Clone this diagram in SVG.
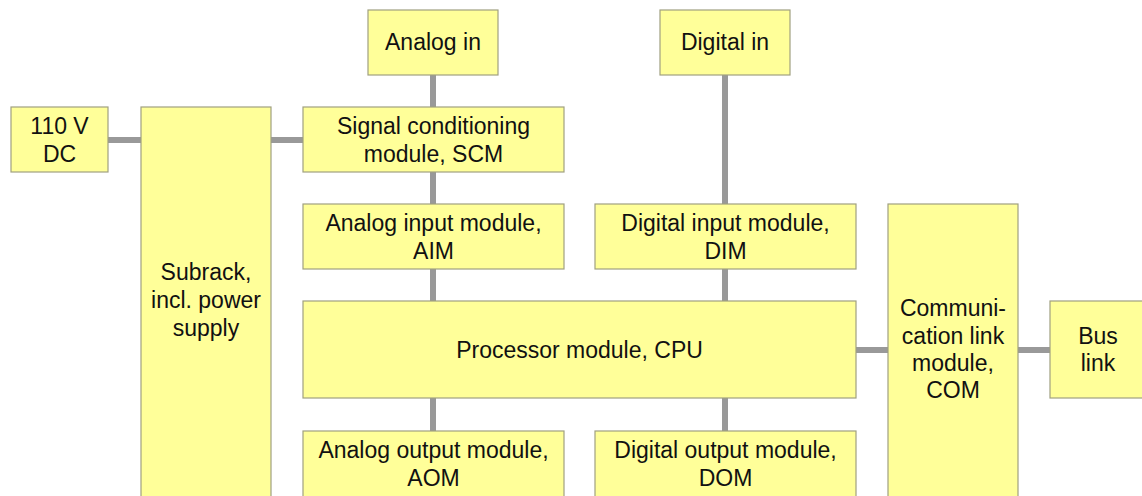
<svg xmlns="http://www.w3.org/2000/svg" width="1142" height="496" viewBox="0 0 1142 496">
  <style>
    .box { fill: #ffff99; stroke: #a0a080; stroke-width: 1.2; }
    .lbl { font-family: "Liberation Sans", Arial, sans-serif; font-size: 23px; fill: #111; text-anchor: middle; }
    .wire { stroke: #999999; stroke-width: 6; fill: none; }
  </style>
  <rect width="1142" height="496" fill="#ffffff"/>

  <!-- connectors -->
  <g id="connectors">
    <line class="wire" x1="108" y1="140" x2="141" y2="140"/>
    <line class="wire" x1="271" y1="140" x2="303" y2="140"/>
    <line class="wire" x1="433" y1="75" x2="433" y2="107"/>
    <line class="wire" x1="433" y1="172" x2="433" y2="204"/>
    <line class="wire" x1="433" y1="269" x2="433" y2="301"/>
    <line class="wire" x1="433" y1="398" x2="433" y2="431"/>
    <line class="wire" x1="725" y1="75" x2="725" y2="204"/>
    <line class="wire" x1="725" y1="269" x2="725" y2="301"/>
    <line class="wire" x1="725" y1="398" x2="725" y2="431"/>
    <line class="wire" x1="856" y1="350" x2="888" y2="350"/>
    <line class="wire" x1="1018" y1="350" x2="1050" y2="350"/>
  </g>

  <g id="dc-supply">
    <rect class="box" x="11" y="107" width="97" height="65"/>
    <text class="lbl" x="59.5" y="134">110 V</text>
    <text class="lbl" x="59.5" y="162">DC</text>
  </g>

  <g id="subrack">
    <rect class="box" x="141" y="107" width="130" height="400"/>
    <text class="lbl" x="206" y="280">Subrack,</text>
    <text class="lbl" x="206" y="308">incl. power</text>
    <text class="lbl" x="206" y="336">supply</text>
  </g>

  <g id="analog-in">
    <rect class="box" x="368" y="10" width="130" height="65"/>
    <text class="lbl" x="433" y="50">Analog in</text>
  </g>

  <g id="digital-in">
    <rect class="box" x="660" y="10" width="130" height="65"/>
    <text class="lbl" x="725" y="50">Digital in</text>
  </g>

  <g id="scm">
    <rect class="box" x="303" y="107" width="261" height="65"/>
    <text class="lbl" x="433.5" y="134">Signal conditioning</text>
    <text class="lbl" x="433.5" y="162">module, SCM</text>
  </g>

  <g id="aim">
    <rect class="box" x="303" y="204" width="261" height="65"/>
    <text class="lbl" x="433.5" y="231">Analog input module,</text>
    <text class="lbl" x="433.5" y="259">AIM</text>
  </g>

  <g id="dim">
    <rect class="box" x="595" y="204" width="261" height="65"/>
    <text class="lbl" x="725.5" y="231">Digital input module,</text>
    <text class="lbl" x="725.5" y="259">DIM</text>
  </g>

  <g id="cpu">
    <rect class="box" x="303" y="301" width="553" height="97"/>
    <text class="lbl" x="579.5" y="358">Processor module, CPU</text>
  </g>

  <g id="com">
    <rect class="box" x="888" y="204" width="130" height="303"/>
    <text class="lbl" x="953" y="316">Communi-</text>
    <text class="lbl" x="953" y="344">cation link</text>
    <text class="lbl" x="953" y="371">module,</text>
    <text class="lbl" x="953" y="398">COM</text>
  </g>

  <g id="bus-link">
    <rect class="box" x="1050" y="301" width="100" height="97"/>
    <text class="lbl" x="1098" y="344">Bus</text>
    <text class="lbl" x="1098" y="371">link</text>
  </g>

  <g id="aom">
    <rect class="box" x="303" y="431" width="261" height="80"/>
    <text class="lbl" x="433.5" y="458">Analog output module,</text>
    <text class="lbl" x="433.5" y="486">AOM</text>
  </g>

  <g id="dom">
    <rect class="box" x="595" y="431" width="261" height="80"/>
    <text class="lbl" x="725.5" y="458">Digital output module,</text>
    <text class="lbl" x="725.5" y="486">DOM</text>
  </g>
</svg>
